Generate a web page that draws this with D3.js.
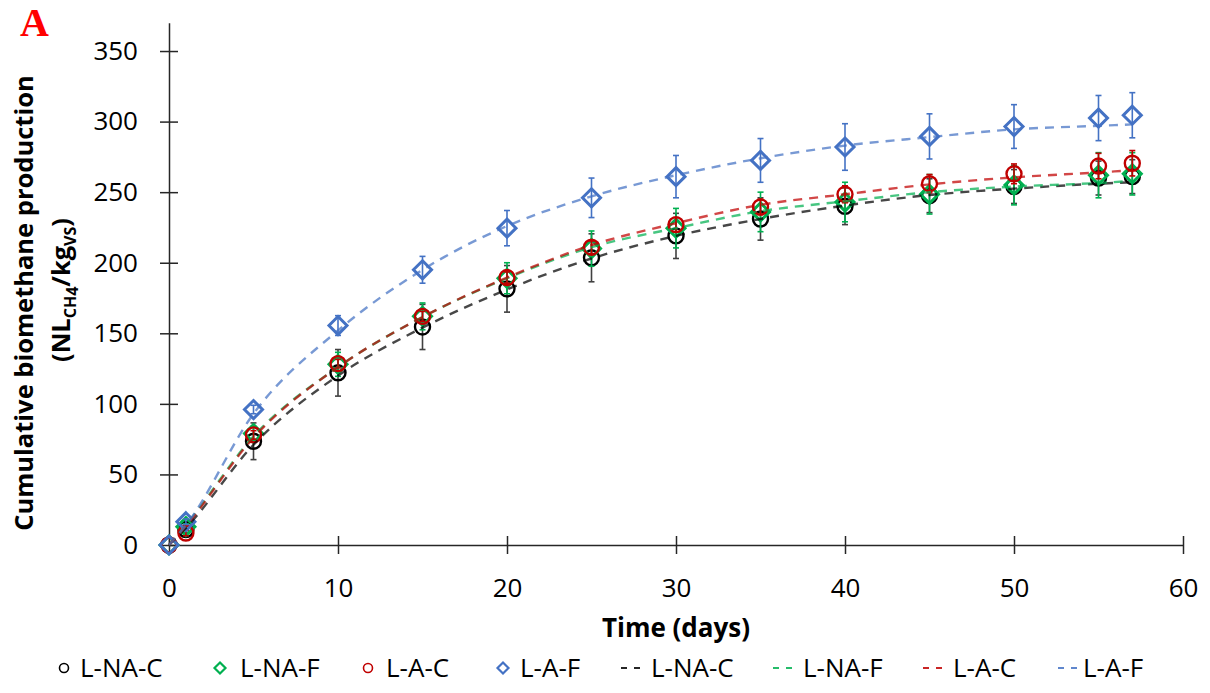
<!DOCTYPE html>
<html>
<head>
<meta charset="utf-8">
<script src="https://cdn.jsdelivr.net/npm/d3@7"></script>
<style>
  html, body { margin: 0; padding: 0; background: #fff; }
  svg text { font-family: "Open Sans", "Liberation Sans", sans-serif; fill: #000; }
</style>
</head>
<body>
<div id="chart"></div>
<script>
// sampling days
const days = [0, 1, 5, 10, 15, 20, 25, 30, 35, 40, 45, 50, 55, 57];

// measured cumulative methane (NL CH4 / kg VS) and standard deviations
const lnacValues = [0, 11, 73.5, 122, 154.5, 181.5, 203.5, 219, 231, 240, 247.5, 254, 260, 261];
const lnacErrors = [0, 2, 13, 16.5, 16, 16.5, 17, 16, 15, 13, 12, 12, 12, 12];
const lnafValues = [0, 13, 79, 128, 162, 189, 210, 224.5, 236, 243, 248.5, 255, 262, 263];
const lnafErrors = [0, 2, 5, 8.5, 9.5, 11, 12.5, 14, 14, 14, 14, 14, 16, 15];
const lacValues = [0, 8.5, 78, 128.5, 162, 189.5, 211, 227, 239.5, 248.5, 256, 263, 268.5, 270.5];
const lacErrors = [0, 2, 3, 3, 3.5, 4, 4.5, 5, 5.5, 6, 6.5, 7, 9, 9];
const lafValues = [0, 16.5, 96, 155.5, 195, 224.5, 246, 261, 272.5, 282, 289.5, 296.5, 302.5, 304.5];
const lafErrors = [0, 2, 3, 7, 9.5, 12.5, 14, 15, 15.5, 16.5, 16, 15.5, 16, 16];

// fitted model curves (dashed lines), read at the same days
const lnacFit = [0, 12, 71, 120, 154, 181, 203, 219, 231, 240.5, 248, 252.5, 256, 257];
const lnafFit = [0, 14, 77, 126, 161.5, 189, 211, 224.5, 236.5, 243.5, 250, 254, 256.5, 258];
const lacFit = [0, 13.5, 76, 126, 161.5, 189.5, 212.5, 228, 241, 248.5, 255.5, 260.5, 264, 265.5];
const lafFit = [0, 14, 93, 152, 195, 226, 247, 262, 274, 283, 289, 294.5, 297, 298];

const seriesNames = ["L-NA-C", "L-NA-F", "L-A-C", "L-A-F"];
const xTicks = [0, 10, 20, 30, 40, 50, 60];
const yTicks = [0, 50, 100, 150, 200, 250, 300, 350];

const series = [
    { name: seriesNames[0], values: lnacValues, errors: lnacErrors, fit: lnacFit, color: "#000000", errColor: "#404040", shape: "circle" },
    { name: seriesNames[1], values: lnafValues, errors: lnafErrors, fit: lnafFit, color: "#00b050", errColor: "#00b050", shape: "diamond" },
    { name: seriesNames[2], values: lacValues, errors: lacErrors, fit: lacFit, color: "#c00000", errColor: "#c00000", shape: "circle" },
    { name: seriesNames[3], values: lafValues, errors: lafErrors, fit: lafFit, color: "#4472c4", errColor: "#4472c4", shape: "diamond" }
];

const width = 1210, height = 693;
const svg = d3.select("#chart")
    .append("svg")
    .attr("width", width)
    .attr("height", height);

const x = d3.scaleLinear().domain([0, 60]).range([169, 1183]);
const y = d3.scaleLinear().domain([0, 370]).range([545, 22.8]);

// axes with ticks crossing the line
const xAxis = svg.append("g")
    .attr("transform", `translate(0,${y(0)})`)
    .call(d3.axisBottom(x).tickValues(xTicks).tickSize(9).tickSizeOuter(0).tickFormat(d3.format("d")));
xAxis.selectAll(".tick line").attr("y1", -9);
xAxis.selectAll(".tick text").attr("y", 43).attr("dy", "0.35em").style("font-size", "26px");

const yAxis = svg.append("g")
    .attr("transform", `translate(${x(0)},0)`)
    .call(d3.axisLeft(y).tickValues(yTicks).tickSize(9).tickSizeOuter(0).tickPadding(22));
yAxis.selectAll(".tick line").attr("x1", 9);
yAxis.selectAll(".tick text").style("font-size", "26px");

svg.selectAll(".domain, .tick line").attr("stroke", "#262626").attr("stroke-width", 1.5);

// error bars and markers
const diamond = (cx, cy, h) => `M${cx},${cy - h}L${cx + h},${cy}L${cx},${cy + h}L${cx - h},${cy}Z`;

series.forEach(s => {
    const g = svg.append("g");
    const pts = days.map((d, i) => ({ day: d, v: s.values[i], e: s.errors[i] }));

    const eb = g.selectAll(".err")
        .data(pts.filter(p => p.e > 0))
        .enter()
        .append("g")
        .attr("stroke", s.errColor)
        .attr("stroke-width", 1.6);
    eb.append("line")
        .attr("x1", p => x(p.day)).attr("x2", p => x(p.day))
        .attr("y1", p => y(p.v - p.e)).attr("y2", p => y(p.v + p.e));
    eb.append("line")
        .attr("x1", p => x(p.day) - 3).attr("x2", p => x(p.day) + 3)
        .attr("y1", p => y(p.v - p.e)).attr("y2", p => y(p.v - p.e));
    eb.append("line")
        .attr("x1", p => x(p.day) - 3).attr("x2", p => x(p.day) + 3)
        .attr("y1", p => y(p.v + p.e)).attr("y2", p => y(p.v + p.e));

    if (s.shape === "circle") {
        g.selectAll("circle")
            .data(pts)
            .enter()
            .append("circle")
            .attr("cx", p => x(p.day))
            .attr("cy", p => y(p.v))
            .attr("r", 7.5)
            .attr("fill", "none")
            .attr("stroke", s.color)
            .attr("stroke-width", 2.4);
    } else {
        g.selectAll("path")
            .data(pts)
            .enter()
            .append("path")
            .attr("d", p => diamond(x(p.day), y(p.v), 9))
            .attr("fill", "none")
            .attr("stroke", s.color)
            .attr("stroke-width", 3);
    }
});

// fitted curves
const line = d3.line()
    .x((d, i) => x(days[i]))
    .y(d => y(d))
    .curve(d3.curveMonotoneX);

series.forEach(s => {
    svg.append("path")
        .datum(s.fit)
        .attr("d", line)
        .attr("fill", "none")
        .attr("stroke", s.color)
        .attr("stroke-opacity", 0.72)
        .attr("stroke-width", 2.4)
        .attr("stroke-dasharray", "9,7");
});

// axis titles
svg.append("text")
    .attr("x", 676)
    .attr("y", 637)
    .attr("text-anchor", "middle")
    .style("font-size", "26px")
    .style("font-weight", "bold")
    .text("Time (days)");

svg.append("text")
    .attr("transform", "translate(33,303) rotate(-90)")
    .attr("text-anchor", "middle")
    .style("font-size", "25.5px")
    .style("font-weight", "bold")
    .text("Cumulative biomethane production");

const unit = svg.append("text")
    .attr("transform", "translate(70,290) rotate(-90)")
    .attr("text-anchor", "middle")
    .style("font-size", "25.5px")
    .style("font-weight", "bold");
unit.append("tspan").text("(NL");
unit.append("tspan").attr("dy", 6).style("font-size", "16px").text("CH");
unit.append("tspan").attr("dy", 2).style("font-size", "16px").text("4");
unit.append("tspan").attr("dy", -8).text("/kg");
unit.append("tspan").attr("dy", 6).style("font-size", "16px").text("VS");
unit.append("tspan").attr("dy", -6).text(")");

// panel letter
svg.append("text")
    .attr("x", 20)
    .attr("y", 36)
    .style("font-family", "'Liberation Serif', 'DejaVu Serif', serif")
    .style("font-size", "40px")
    .style("font-weight", "bold")
    .style("fill", "#ff0000")
    .text("A");

// legend
const legendY = 668;
const markerX = [64, 220, 368, 503];
const markerTextX = [80, 240, 386, 520];
const dashX = [621, 773, 923, 1058];
const dashTextX = [651, 803, 953, 1083];

const legend = svg.append("g");
series.forEach((s, i) => {
    if (s.shape === "circle") {
        legend.append("circle")
            .attr("cx", markerX[i]).attr("cy", legendY).attr("r", 4.5)
            .attr("fill", "none").attr("stroke", s.color).attr("stroke-width", 1.6);
    } else {
        legend.append("path")
            .attr("d", diamond(markerX[i], legendY, 5.5))
            .attr("fill", "none").attr("stroke", s.color).attr("stroke-width", 2.2);
    }
    legend.append("text")
        .attr("x", markerTextX[i]).attr("y", legendY).attr("dy", "0.35em")
        .style("font-size", "26px")
        .text(s.name);

    legend.append("line")
        .attr("x1", dashX[i]).attr("x2", dashX[i] + 20)
        .attr("y1", legendY).attr("y2", legendY)
        .attr("stroke", s.color).attr("stroke-opacity", 0.85)
        .attr("stroke-width", 1.8).attr("stroke-dasharray", "6,7");
    legend.append("text")
        .attr("x", dashTextX[i]).attr("y", legendY).attr("dy", "0.35em")
        .style("font-size", "26px")
        .text(s.name);
});
</script>
</body>
</html>
